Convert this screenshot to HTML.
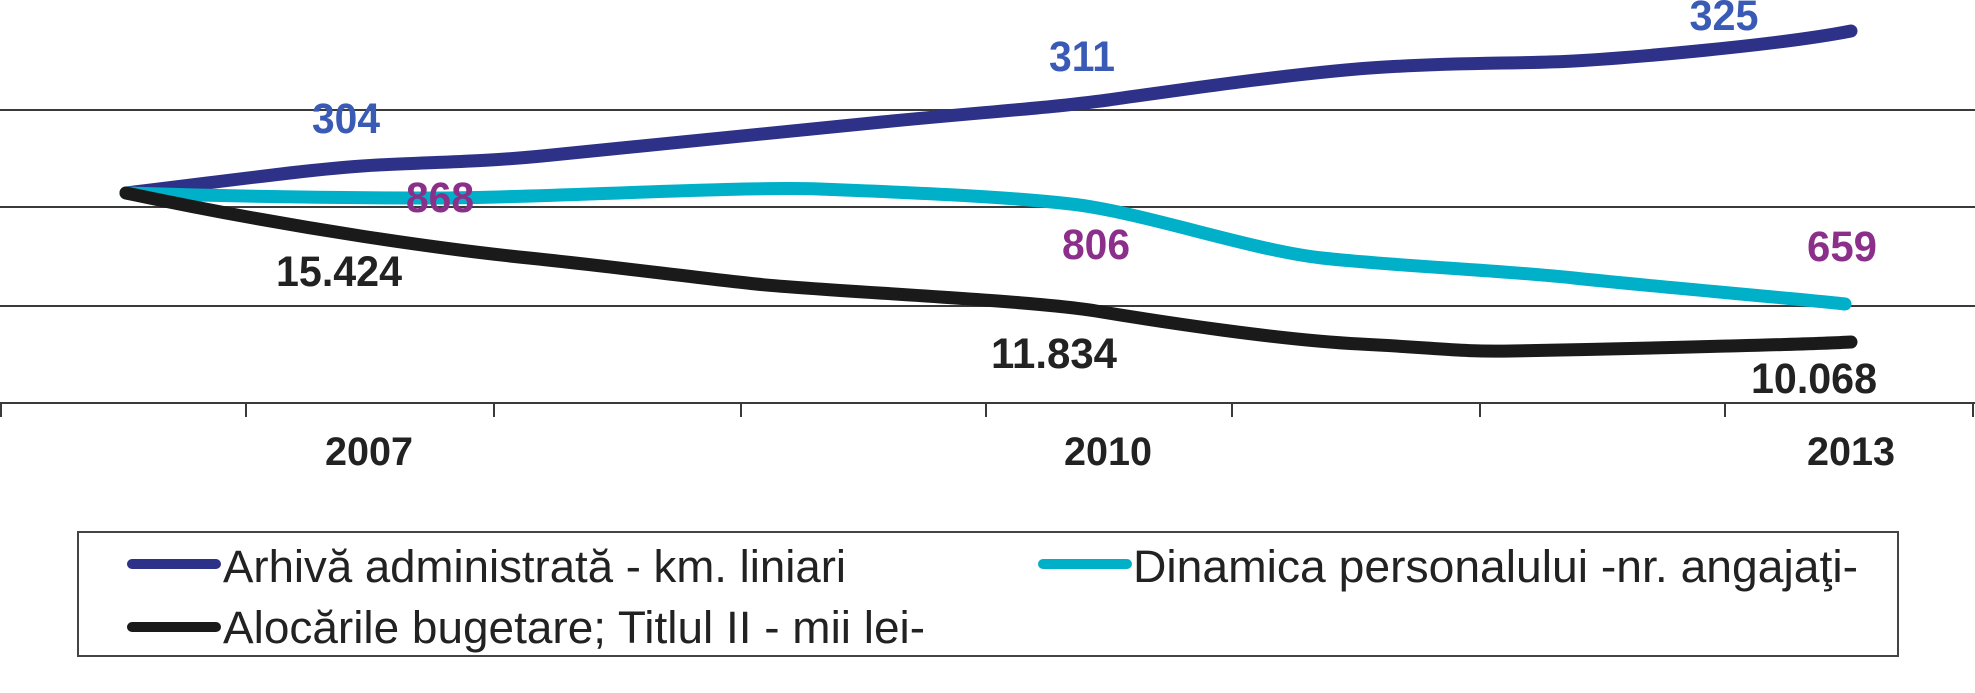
<!DOCTYPE html>
<html><head><meta charset="utf-8"><style>html,body{margin:0;padding:0;background:#fff}svg{display:block}</style></head>
<body>
<svg width="1975" height="693" viewBox="0 0 1975 693" xmlns="http://www.w3.org/2000/svg" font-family="Liberation Sans, Arial, sans-serif">
<g stroke="#3a3a3a" stroke-width="2" fill="none">
<line x1="0" y1="110" x2="1975" y2="110"/>
<line x1="0" y1="207" x2="1975" y2="207"/>
<line x1="0" y1="306" x2="1975" y2="306"/>
<line x1="0" y1="403" x2="1975" y2="403"/>
<path d="M1 403V417M246 403V417M494 403V417M741 403V417M986 403V417M1232 403V417M1480 403V417M1725 403V417M1973 403V417"/>
</g>
<g fill="none" stroke-width="13" stroke-linecap="round" stroke-linejoin="round">
<path stroke="#2e3188" d="M126 193 C250 178 320 168 378 165 S480 162 542 156 S780 132 882 122 S1050 108 1108 100 S1300 72 1385 67 S1520 64 1574 61 S1780 45 1851 31"/>
<path stroke="#00b0c8" d="M126 193 C250 197 350 198 441 198 S740 186 819 189 S1000 196 1071 204 S1250 250 1322 258 S1500 270 1574 278 S1790 298 1845 304"/>
<path stroke="#1a1a1a" d="M126 193 C300 230 450 250 529 258 S690 277 756 284 S1030 300 1096 311 S1280 340 1360 344 S1460 352 1511 351 S1800 345 1851 342"/>
</g>
<g font-weight="bold" font-size="43" text-anchor="middle">
<text x="346" y="133" fill="#3a5bb5" textLength="68" lengthAdjust="spacingAndGlyphs">304</text>
<text x="440" y="212" fill="#8b2f8b" textLength="68" lengthAdjust="spacingAndGlyphs">868</text>
<text x="339" y="286" fill="#222" textLength="126" lengthAdjust="spacingAndGlyphs">15.424</text>
<text x="1082" y="71" fill="#3a5bb5" textLength="66" lengthAdjust="spacingAndGlyphs">311</text>
<text x="1096" y="259" fill="#8b2f8b" textLength="68" lengthAdjust="spacingAndGlyphs">806</text>
<text x="1054" y="368" fill="#222" textLength="126" lengthAdjust="spacingAndGlyphs">11.834</text>
<text x="1724" y="30" fill="#3a5bb5" textLength="69" lengthAdjust="spacingAndGlyphs">325</text>
<text x="1842" y="261" fill="#8b2f8b" textLength="70" lengthAdjust="spacingAndGlyphs">659</text>
<text x="1814" y="393" fill="#222" textLength="126" lengthAdjust="spacingAndGlyphs">10.068</text>
</g>
<g font-weight="bold" font-size="40" text-anchor="middle" fill="#222">
<text x="369" y="465" textLength="88" lengthAdjust="spacingAndGlyphs">2007</text>
<text x="1108" y="465" textLength="88" lengthAdjust="spacingAndGlyphs">2010</text>
<text x="1851" y="465" textLength="88" lengthAdjust="spacingAndGlyphs">2013</text>
</g>
<rect x="78" y="532" width="1820" height="124" fill="none" stroke="#444" stroke-width="2"/>
<g stroke-width="10" stroke-linecap="round">
<line x1="132" y1="564" x2="216" y2="564" stroke="#2e3188"/>
<line x1="1043" y1="564" x2="1127" y2="564" stroke="#00b0c8"/>
<line x1="132" y1="627" x2="216" y2="627" stroke="#1a1a1a"/>
</g>
<g font-size="45" fill="#222">
<text x="223" y="582" textLength="623" lengthAdjust="spacingAndGlyphs">Arhivă administrată - km. liniari</text>
<text x="1133" y="582" textLength="725" lengthAdjust="spacingAndGlyphs">Dinamica personalului -nr. angajaţi-</text>
<text x="223" y="643" textLength="702" lengthAdjust="spacingAndGlyphs">Alocările bugetare; Titlul II - mii lei-</text>
</g>
</svg>
</body></html>
